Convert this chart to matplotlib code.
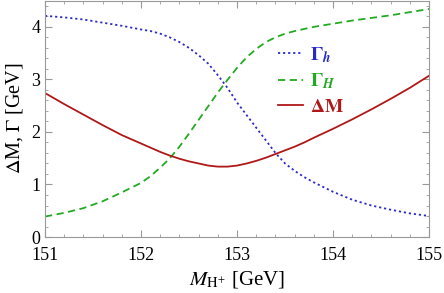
import matplotlib
matplotlib.use("Agg")
import matplotlib.pyplot as plt
from matplotlib.ticker import MultipleLocator

plt.rcParams['font.family'] = ['Liberation Serif', 'DejaVu Serif']
plt.rcParams['mathtext.fontset'] = 'stix'

# --- values ---
m_h = [151.0, 151.2, 151.4, 151.6, 151.8, 152.0, 152.1, 152.2, 152.3, 152.4,
       152.5, 152.6, 152.7, 152.8, 152.9, 153.0, 153.1, 153.2, 153.3, 153.4,
       153.5, 153.6, 153.7, 153.8, 154.0, 154.2, 154.4, 154.6, 154.8, 155.0]

gamma_h = [4.21, 4.18, 4.14, 4.08, 4.02, 3.95, 3.92, 3.87, 3.80, 3.71,
           3.60, 3.46, 3.30, 3.08, 2.84, 2.56, 2.32, 2.08, 1.84, 1.60,
           1.40, 1.26, 1.14, 1.04, 0.86, 0.71, 0.60, 0.52, 0.45, 0.40]

gamma_H = [0.39, 0.46, 0.55, 0.68, 0.85, 1.03, 1.16, 1.32, 1.50, 1.72,
           1.97, 2.23, 2.49, 2.75, 2.99, 3.22, 3.42, 3.58, 3.71, 3.80,
           3.87, 3.92, 3.96, 4.00, 4.06, 4.12, 4.17, 4.22, 4.28, 4.34]

delta_m = [2.74, 2.53, 2.33, 2.13, 1.94, 1.78, 1.70, 1.62, 1.55, 1.49,
           1.44, 1.40, 1.36, 1.34, 1.34, 1.36, 1.40, 1.45, 1.51, 1.58,
           1.65, 1.72, 1.80, 1.89, 2.06, 2.24, 2.43, 2.63, 2.84, 3.07]

blue = '#2a2ac8'
green = '#22aa22'
red = '#b01818'

fig = plt.figure(figsize=(4.44, 2.93), dpi=100)
ax = fig.add_axes([0.1014, 0.191, 0.865, 0.807])

ax.plot(m_h, gamma_h, color=blue, lw=1.3, linestyle=(0, (1.2, 1.6)), label=r'$\mathbf{\Gamma}_{\mathbfit{h}}$')
ax.plot(m_h, gamma_H, color=green, lw=1.3, linestyle=(0, (4, 2.5)), label=r'$\mathbf{\Gamma}_{\mathbfit{H}}$')
ax.plot(m_h, delta_m, color=red, lw=1.3, label=r'$\mathbf{\Delta M}$')

ax.set_xlim(151, 155)
ax.set_ylim(0, 4.5)
ax.xaxis.set_major_locator(MultipleLocator(1))
ax.xaxis.set_minor_locator(MultipleLocator(0.2))
ax.yaxis.set_major_locator(MultipleLocator(1))
ax.yaxis.set_minor_locator(MultipleLocator(0.2))

for s in ax.spines.values():
    s.set_color('#999999')
ax.tick_params(which='both', direction='in', top=True, right=True, colors='#999999', labelcolor='black', labelsize=13)
ax.tick_params(which='major', length=5)
ax.tick_params(which='minor', length=2.5)
ax.tick_params(axis='x', pad=7.5)

ax.set_xlabel(r'$M_{\mathrm{H}^{+}}$ [GeV]', fontsize=15, labelpad=3)
ax.set_ylabel(r'$\Delta$M, $\Gamma$ [GeV]', fontsize=14.5, labelpad=4)

leg = ax.legend(loc='upper left', bbox_to_anchor=(0.56, 0.885), frameon=False, fontsize=14,
                handlelength=1.3, handletextpad=0.35, labelspacing=0.35)
for txt, c in zip(leg.get_texts(), [blue, green, red]):
    txt.set_color(c)

fig.savefig('out.png', dpi=100)
